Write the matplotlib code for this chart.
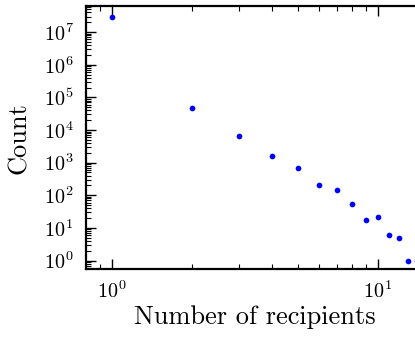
import numpy as np
import matplotlib
matplotlib.use('Agg')
import matplotlib.pyplot as plt
from matplotlib.ticker import LogLocator, NullFormatter

plt.rcParams['font.family'] = 'serif'
plt.rcParams['font.serif'] = ['cmr10']
plt.rcParams['mathtext.fontset'] = 'cm'
plt.rcParams['axes.formatter.use_mathtext'] = True

# number of recipients vs. count
recipients = [1, 2, 3, 4, 5, 6, 7, 8, 9, 10, 11, 12, 13, 14]
counts = [2.9e7, 4.7e4, 6.5e3, 1.65e3, 680, 200, 150, 55, 18, 21, 6, 5, 1, 1]

xlo, xhi = 0.8, 15.0
decade_px = 266.0
fig = plt.figure(figsize=(4.15, 3.38), dpi=100)
w = decade_px * np.log10(xhi / xlo) / 415
ax = fig.add_axes([86 / 415, 1 - 269.3 / 338, w, (269.3 - 6) / 338])

ax.loglog(recipients, counts, 'o', color='#0000ff', markersize=4.1,
          markeredgewidth=0, clip_on=False)

ax.set_xlim(xlo, xhi)
ax.set_ylim(0.54, 6.3e7)

ax.yaxis.set_major_locator(LogLocator(base=10, numticks=20))
ax.yaxis.set_minor_locator(LogLocator(base=10, subs=np.arange(2, 10), numticks=100))
ax.yaxis.set_minor_formatter(NullFormatter())
ax.xaxis.set_minor_locator(LogLocator(base=10, subs=np.arange(2, 10), numticks=100))
ax.xaxis.set_minor_formatter(NullFormatter())

for s in ax.spines.values():
    s.set_linewidth(1.6)
ax.tick_params(which='both', direction='in', top=True, right=True, labelsize=14.5)
ax.tick_params(which='major', length=7, width=1.0)
ax.tick_params(which='minor', length=3.5, width=0.8)
ax.tick_params(axis='x', which='major', pad=8)
ax.tick_params(axis='y', which='major', pad=9)

ax.set_xlabel('Number of recipients', fontsize=19, labelpad=2)
ax.set_ylabel('Count', fontsize=19, labelpad=9)

fig.savefig('out.png', dpi=100)
